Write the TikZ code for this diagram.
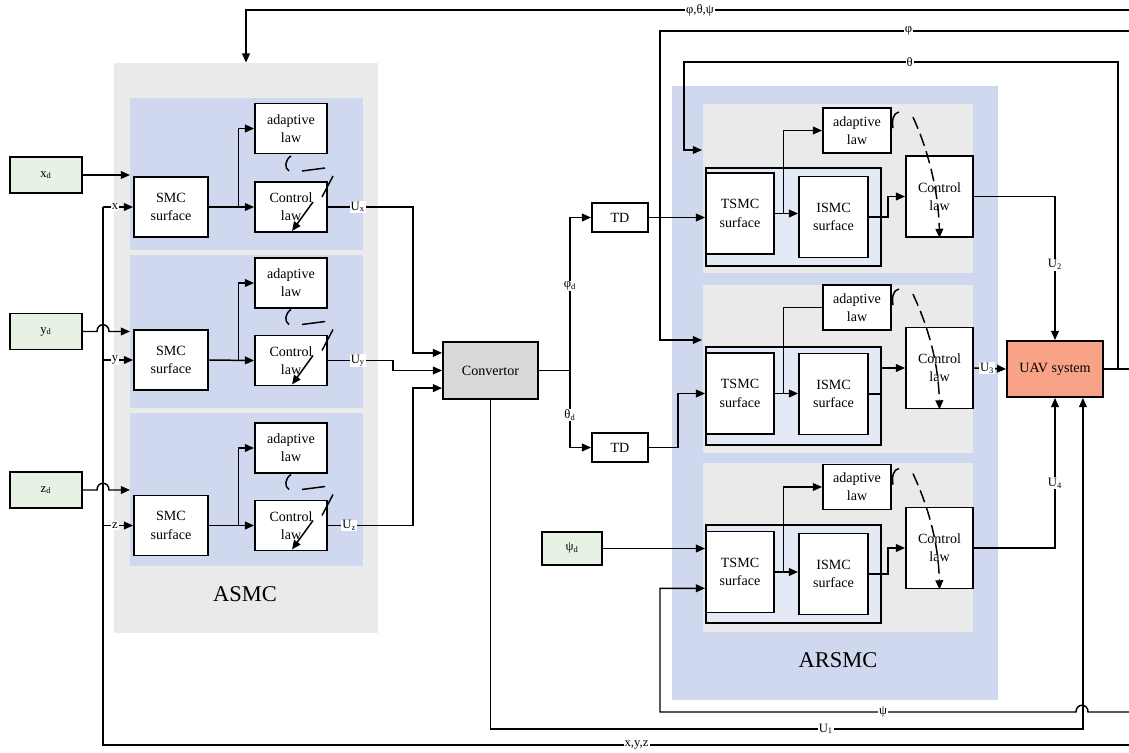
\documentclass[tikz,border=0pt]{standalone}
\usepackage{fontspec}
\setmainfont{Liberation Serif}
\usepackage{tikz}
\usetikzlibrary{arrows.meta,calc}
\definecolor{panelgray}{RGB}{234,234,234}
\definecolor{panelblue}{RGB}{207,216,238}
\definecolor{innerblue}{RGB}{228,233,246}
\definecolor{inputgreen}{RGB}{232,242,228}
\definecolor{convgray}{RGB}{217,217,217}
\definecolor{uavsalmon}{RGB}{248,163,135}

\tikzset{
  wire/.style={line width=1.05pt},
  arr/.style={wire, -{Triangle[length=6.5pt,width=5.5pt]}},
  blk/.style={draw, line width=1.3pt, fill=white, align=center, inner sep=1pt,
    font=\fontsize{10}{13}\selectfont},
  inbox/.style={blk, fill=inputgreen, minimum width=1.8cm, minimum height=0.9cm,
    font=\fontsize{9}{10}\selectfont},
  smcbox/.style={blk, minimum width=1.85cm, minimum height=1.5cm},
  lawbox/.style={blk, minimum width=1.8cm, minimum height=1.25cm},
  convbox/.style={blk, fill=convgray, minimum width=2.375cm, minimum height=1.425cm},
  tdbox/.style={blk, minimum width=1.4cm, minimum height=0.725cm},
  radpbox/.style={blk, minimum width=1.7cm, minimum height=1.125cm},
  rctrlbox/.style={blk, minimum width=1.675cm, minimum height=2.025cm},
  surfbox/.style={blk, minimum width=1.7cm, minimum height=2.025cm},
  outbox/.style={blk, fill=innerblue, minimum width=4.375cm, minimum height=2.45cm},
  uavbox/.style={blk, fill=uavsalmon, minimum width=2.4cm, minimum height=1.4cm},
  lbl/.style={fill=white, inner sep=0.8pt, font=\fontsize{9}{10}\selectfont},
  title/.style={font=\fontsize{16}{18}\selectfont},
}

\begin{document}
\begin{tikzpicture}[x=0.025cm,y=-0.025cm]
\useasboundingbox (0,0) rectangle (1129,753);
% ASMC block and its three panels
\node[fill=panelgray, inner sep=0, minimum width=6.6cm, minimum height=14.25cm] (asmc) at (246,348) {};
\fill[panelblue] (130,98) rectangle (363,250);
\fill[panelblue] (130,255) rectangle (363,408);
\fill[panelblue] (130,413) rectangle (363,566);
\node[title] (asmclbl) at (245,594) {ASMC};
% ARSMC block and its three panels
\node[fill=panelblue, inner sep=0, minimum width=8.15cm, minimum height=15.35cm] (arsmc) at (835,393) {};
\fill[panelgray] (703,104) rectangle (973,273);
\fill[panelgray] (703,285) rectangle (973,453);
\fill[panelgray] (703,463) rectangle (973,632);
\node[title] (arsmclbl) at (838,660) {ARSMC};

% Reference inputs
\node[inbox] (xd) at (46,175) {x\textsubscript{d}};
\node[inbox] (yd) at (46,331.5) {y\textsubscript{d}};
\node[inbox] (zd) at (46,490) {z\textsubscript{d}};
\node[inbox, minimum width=1.5cm, minimum height=0.825cm] (psid) at (572,548.5) {ψ\textsubscript{d}};

% ASMC rows
\node[smcbox] (smcx) at (171,207) {SMC\\surface};
\node[lawbox] (adpx) at (291,128.5) {adaptive\\law};
\node[lawbox] (ctrlx) at (291,207) {Control\\law};
\node[smcbox] (smcy) at (171,360) {SMC\\surface};
\node[lawbox] (adpy) at (291,283) {adaptive\\law};
\node[lawbox] (ctrly) at (291,360.5) {Control\\law};
\node[smcbox] (smcz) at (171,525.5) {SMC\\surface};
\node[lawbox] (adpz) at (291,448) {adaptive\\law};
\node[lawbox] (ctrlz) at (291,525.5) {Control\\law};

% Convertor, TDs and plant
\node[convbox] (conv) at (490.5,370.5) {Convertor};
\node[tdbox] (tdA) at (620,217.5) {TD};
\node[tdbox] (tdB) at (620,447.5) {TD};
\node[uavbox] (uav) at (1055,369) {UAV system};

% ARSMC rows
\node[outbox] (outA) at (793.5,217) {};
\node[surfbox] (tsmcA) at (740,213.5) {TSMC\\surface};
\node[surfbox, minimum width=1.725cm] (ismcA) at (833.5,217) {ISMC\\surface};
\node[radpbox] (adpA) at (857,130.5) {adaptive\\law};
\node[rctrlbox] (ctrlA) at (939.5,196.5) {Control\\law};
\node[outbox] (outB) at (793.5,396) {};
\node[surfbox] (tsmcB) at (740,393.5) {TSMC\\surface};
\node[surfbox, minimum width=1.725cm] (ismcB) at (833.5,394) {ISMC\\surface};
\node[radpbox] (adpB) at (857,307.5) {adaptive\\law};
\node[rctrlbox] (ctrlB) at (939.5,368) {Control\\law};
\node[outbox] (outC) at (793.5,574) {};
\node[surfbox] (tsmcC) at (740,572) {TSMC\\surface};
\node[surfbox, minimum width=1.725cm] (ismcC) at (833.5,574) {ISMC\\surface};
\node[radpbox] (adpC) at (857,487) {adaptive\\law};
\node[rctrlbox] (ctrlC) at (939.5,548) {Control\\law};

% Free ends
\coordinate (xin) at (130,175);
\coordinate (yin) at (130,331.5);
\coordinate (zin) at (130,490);
\coordinate (fbx) at (103,207);
\coordinate (fbT) at (1129,10);
\coordinate (phiR) at (1129,31);
\coordinate (phiIn) at (702,340);
\coordinate (thB) at (1118,369);
\coordinate (thIn) at (702,150);
\coordinate (uavR) at (1129,369);
\coordinate (psiR) at (1129,712);
\coordinate (xyzR) at (1129,745);

% Inputs into ASMC
\draw[arr] (xd.east) -- (xin);
\draw[arr] (yd.east) -- (97,331.5) .. controls (97,322.5) and (109,322.5) .. (109,331.5) -- (yin);
\draw[arr] (zd.east) -- (97,490) .. controls (97,481) and (109,481) .. (109,490) -- (zin);
\draw[wire] (xyzR) -| node[lbl,pos=0.24]{x,y,z} (fbx);
\draw[arr] (fbx) -- node[lbl,pos=0.4]{x} (smcx.west);
\draw[arr] (fbx |- smcy.west) -- node[lbl,pos=0.4]{y} (smcy.west);
\draw[arr] (fbx |- smcz.west) -- node[lbl,pos=0.4]{z} (smcz.west);
\draw[arr] (fbT) -| node[lbl,pos=0.243]{φ,θ,ψ} (asmc.north);

% Inside ASMC
\draw[arr] (smcx.east) -- (ctrlx.west);
\draw[arr] ($(smcx.east)!0.66!(ctrlx.west)$) |- (adpx.west);
\draw[arr] (smcy.east) -- (ctrly.west);
\draw[arr] ($(smcy.east)!0.66!(ctrly.west)$) |- (adpy.west);
\draw[arr] (smcz.east) -- (ctrlz.west);
\draw[arr] ($(smcz.east)!0.66!(ctrlz.west)$) |- (adpz.west);
% adaptive tuning marks
\begin{scope}[shift={(ctrlx.center)}]
\draw[wire] (0,-51) .. controls (-6,-47) and (-7,-39) .. (-2,-36);
\draw[wire] (11,-36) -- (34,-39);
\draw[wire] (42,-31) -- (31,-10);
\draw[arr] (22,-5) -- (1,24);
\end{scope}
\begin{scope}[shift={(ctrly.center)}]
\draw[wire] (0,-51) .. controls (-6,-47) and (-7,-39) .. (-2,-36);
\draw[wire] (11,-36) -- (34,-39);
\draw[wire] (42,-31) -- (31,-10);
\draw[arr] (22,-5) -- (1,24);
\end{scope}
\begin{scope}[shift={(ctrlz.center)}]
\draw[wire] (0,-51) .. controls (-6,-47) and (-7,-39) .. (-2,-36);
\draw[wire] (11,-36) -- (34,-39);
\draw[wire] (42,-31) -- (31,-10);
\draw[arr] (22,-5) -- (1,24);
\end{scope}

% ASMC outputs into the convertor
\draw[arr] (ctrlx.east) -- node[lbl,pos=0.35]{U\textsubscript{x}} ++(85,0) |- (conv.160);
\draw[arr] (ctrly.east) -- node[lbl,pos=0.46]{U\textsubscript{y}} ++(65,0) |- (conv.west);
\draw[arr] (ctrlz.east) -- node[lbl,pos=0.25]{U\textsubscript{z}} ++(85,0) |- (conv.200);
\draw[arr] (conv.east) -- ++(31,0) |- node[lbl,pos=0.276]{φ\textsubscript{d}} (tdA.west);
\draw[arr] (conv.east) -- ++(31,0) |- node[lbl,pos=0.29]{θ\textsubscript{d}} (tdB.west);
\draw[arr] (conv.south) -- ++(0,329) -| node[lbl,pos=0.283]{U\textsubscript{1}} (uav.314);

% Inputs into ARSMC
\draw[arr] (tdA.east) -- (tdA.east -| tsmcA.west);
\draw[arr] (tdB.east) -- ++(29,0) |- (tsmcB.west);
\draw[arr] (psid.east) -- (psid.east -| tsmcC.west);
\draw[arr] (phiR) -- node[lbl,pos=0.47]{φ} ++(-469,0) |- (phiIn);
\draw[arr] (thB) -- ++(0,-307) -- node[lbl,pos=0.48]{θ} ++(-434,0) |- (thIn);
\draw[arr] (psiR) -- (1088,712) .. controls (1088,703) and (1076,703) .. (1076,712) -- node[lbl,pos=0.464]{ψ} (660,712) |- (tsmcC.205);

% Inside ARSMC
\draw[arr] (tsmcA.east) -- (tsmcA.east -| ismcA.west);
\draw[arr] ($(tsmcA.east)!0.36!(tsmcA.east -| ismcA.west)$) |- (adpA.west);
\draw[arr] (ismcA.east) -- ++(19,0) |- (ctrlA.west);
\draw[arr] (tsmcB.east) -- (tsmcB.east -| ismcB.west);
\draw[wire] ($(tsmcB.east)!0.36!(tsmcB.east -| ismcB.west)$) |- (adpB.west);
\draw[wire] (ismcB.east) -- (ismcB.east -| outB.east);
\draw[arr] (ctrlB.west -| outB.east) -- (ctrlB.west);
\draw[arr] (tsmcC.east) -- (tsmcC.east -| ismcC.west);
\draw[arr] ($(tsmcC.east)!0.36!(tsmcC.east -| ismcC.west)$) |- (adpC.west);
\draw[arr] (ismcC.east) -- ++(19,0) |- (ctrlC.west);
% adaptive tuning marks
\draw[wire] ($(adpA.north east)+(7,5)$) .. controls +(-6,1) and +(-1,-8) .. ($(adpA.north east)+(1,21)$);
\draw[arr, dash pattern=on 9pt off 4pt] ($(adpA.north east)+(21,10)$) .. controls +(15,32) and +(-1,-47) .. (ctrlA.south);
\draw[wire] ($(adpB.north east)+(7,5)$) .. controls +(-6,1) and +(-1,-8) .. ($(adpB.north east)+(1,21)$);
\draw[arr, dash pattern=on 9pt off 4pt] ($(adpB.north east)+(21,10)$) .. controls +(15,32) and +(-1,-47) .. (ctrlB.south);
\draw[wire] ($(adpC.north east)+(7,5)$) .. controls +(-6,1) and +(-1,-8) .. ($(adpC.north east)+(1,21)$);
\draw[arr, dash pattern=on 9pt off 4pt] ($(adpC.north east)+(21,10)$) .. controls +(15,32) and +(-1,-47) .. (ctrlC.south);

% ARSMC outputs into the UAV
\draw[arr] (ctrlA.east) -| node[lbl,pos=0.737]{U\textsubscript{2}} (uav.north);
\draw[arr] (ctrlB.east) -- node[lbl,pos=0.41]{U\textsubscript{3}} (uav.west);
\draw[arr] (ctrlC.east) -| node[lbl,pos=0.715]{U\textsubscript{4}} (uav.south);
\draw[wire] (uav.east) -- (uavR);
\end{tikzpicture}
\end{document}
